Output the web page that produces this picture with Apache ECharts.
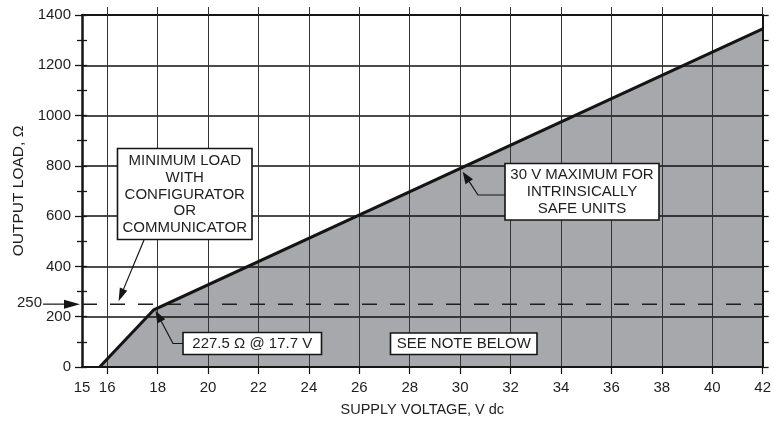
<!DOCTYPE html>
<html><head><meta charset="utf-8">
<script src="https://cdn.jsdelivr.net/npm/echarts@6/dist/echarts.min.js"></script>
<style>html,body{margin:0;padding:0;background:#fff}#c{width:774px;height:422px}</style>
</head><body><div id="c"></div>
<script>
// ---- data ----
const xTickValues = [16,18,20,22,24,26,28,30,32,34,36,38,40,42];
const xLabelValues = [15,16,18,20,22,24,26,28,30,32,34,36,38,40,42];
const yTickValues = [0,200,400,600,800,1000,1200,1400];
const loadCurveV = [15.7, 17.85, 42];
const loadCurveOhm = [0, 227.5, 1345];
const minLoadV = [15, 42];
const minLoadOhm = [250, 250];
const minLoadLabel = '250';
const noteTexts = {
  minLoad: 'MINIMUM LOAD\nWITH\nCONFIGURATOR\nOR\nCOMMUNICATOR',
  knee: '227.5 Ω @ 17.7 V',
  note: 'SEE NOTE BELOW',
  max30: '30 V MAXIMUM FOR\nINTRINSICALLY\nSAFE UNITS'
};
// arrow targets in data units
const arrowTargetsV = {minLoad: 16.45, knee: 17.92, max30: 30.1};
const arrowTargetsOhm = {minLoad: 262, knee: 224, max30: 777};

const FONT = '"Liberation Sans", Arial, Helvetica, sans-serif';
const INK = '#151515';

const curve = loadCurveV.map((v,i)=>[v, loadCurveOhm[i]]);
const minLoad = minLoadV.map((v,i)=>[v, minLoadOhm[i]]);

const chart = echarts.init(document.getElementById('c'), null, {renderer:'canvas'});
const tickLabelStyle = {color:'#1e1e1e', fontSize:15, fontFamily:FONT};
chart.setOption({
  animation:false,
  backgroundColor:'#fff',
  grid:{left:82, right:7, top:15, bottom:52, containLabel:false},
  xAxis:[
    {type:'value', min:15, max:42, interval:1, position:'bottom', z:3,
     axisLine:{show:true, onZero:false, lineStyle:{color:INK, width:2}},
     axisTick:{show:true, customValues:xTickValues, length:7, lineStyle:{color:INK, width:1.2}},
     axisLabel:{customValues:xLabelValues, formatter:v=>String(v), margin:13, ...tickLabelStyle},
     splitLine:{show:true, lineStyle:{color:'#333', width:1}},
     name:'SUPPLY VOLTAGE, V dc', nameLocation:'middle', nameGap:35,
     nameTextStyle:{color:'#1e1e1e', fontSize:14.5, fontFamily:FONT}},
    {type:'value', min:15, max:42, interval:1, position:'top', z:3,
     axisLine:{show:true, onZero:false, lineStyle:{color:INK, width:2}},
     axisTick:{show:true, customValues:xTickValues, length:8, lineStyle:{color:'#333', width:1}},
     axisLabel:{show:false}, splitLine:{show:false}}
  ],
  yAxis:[
    {type:'value', min:0, max:1400, interval:200, position:'left', z:3,
     axisLine:{show:true, onZero:false, lineStyle:{color:INK, width:2.5}},
     axisTick:{show:true, length:7, lineStyle:{color:INK, width:1.3}},
     minorTick:{show:true, splitNumber:2, length:5, lineStyle:{color:INK, width:1.3}},
     axisLabel:{customValues:yTickValues, formatter:v=>String(v), margin:11, ...tickLabelStyle},
     splitLine:{show:true, lineStyle:{color:'#111', width:1.5}},
     name:'OUTPUT LOAD, Ω', nameLocation:'middle', nameGap:48, nameRotate:90,
     nameTextStyle:{color:'#1e1e1e', fontSize:15.5, fontFamily:FONT}},
    {type:'value', min:0, max:1400, interval:100, position:'left', z:3,
     axisLine:{show:false}, axisTick:{show:true, inside:true, length:5, lineStyle:{color:INK, width:1.3}},
     axisLabel:{show:false}, splitLine:{show:false}},
    {type:'value', min:0, max:1400, interval:100, position:'right', z:3,
     axisLine:{show:true, onZero:false, lineStyle:{color:INK, width:2}},
     axisTick:{show:true, length:6, lineStyle:{color:INK, width:1.3}},
     axisLabel:{show:false}, splitLine:{show:false}}
  ],
  series:[
    {type:'line', data:curve, symbol:'none', silent:true, z:1,
     lineStyle:{width:0}, areaStyle:{color:'#a7a8ab', opacity:1}},
    {type:'line', data:minLoad, symbol:'none', silent:true, z:4,
     lineStyle:{color:'#1e1e1e', width:1.5, type:[15,13]}},
    {type:'line', data:curve, symbol:'none', silent:true, z:5,
     lineStyle:{color:INK, width:3, join:'miter'}}
  ]
});

function px(v, o){ return chart.convertToPixel({xAxisIndex:0, yAxisIndex:0}, [v, o]); }

function arrow(pts, L, W){
  const T = pts[pts.length-1], P = pts[pts.length-2];
  const dx = T[0]-P[0], dy = T[1]-P[1], len = Math.hypot(dx,dy);
  const ux = dx/len, uy = dy/len, nx = -uy, ny = ux;
  const B = [T[0]-ux*L, T[1]-uy*L];
  const line = pts.slice(0,-1).concat([B]);
  return [
    {type:'polyline', z:10, shape:{points:line}, style:{stroke:INK, lineWidth:1.2, fill:null}},
    {type:'polygon', z:10, shape:{points:[T, [B[0]+nx*W, B[1]+ny*W], [B[0]-nx*W, B[1]-ny*W]]}, style:{fill:INK}}
  ];
}
function box(x, y, w, h, text, lh){
  return [
    {type:'rect', z:10, shape:{x:x, y:y, width:w, height:h}, style:{fill:'#fff', stroke:INK, lineWidth:1.6}},
    {type:'text', z:11, x:x+w/2, y:y+h/2+0.5, style:{text:text, fill:'#1e1e1e', font:'15px '+FONT, align:'center', verticalAlign:'middle', lineHeight:lh}}
  ];
}

const axisX = px(15, 0)[0];
const y250 = px(15, minLoadOhm[0])[1];
const tMin = px(arrowTargetsV.minLoad, arrowTargetsOhm.minLoad);
const tKnee = px(arrowTargetsV.knee, arrowTargetsOhm.knee);
const tMax = px(arrowTargetsV.max30, arrowTargetsOhm.max30);

const els = [].concat(
  arrow([[144,240], tMin], 13, 4),
  arrow([[183,343.5],[173,343.5], tKnee], 12, 4.5),
  arrow([[505,195],[478,195], tMax], 12, 4.5),
  arrow([[axisX-39, y250],[axisX-2, y250]], 16, 4.5),
  box(117.5, 148.5, 134.5, 91, noteTexts.minLoad, 16.6),
  box(183, 332.5, 138.5, 22, noteTexts.knee, 17),
  box(390.5, 333, 146.5, 21.5, noteTexts.note, 17),
  box(505, 163.5, 154, 56.5, noteTexts.max30, 17),
  [{type:'text', z:11, x:axisX-40, y:y250-1, style:{text:minLoadLabel, fill:'#1e1e1e', font:'15px '+FONT, align:'right', verticalAlign:'middle'}}]
);
chart.setOption({graphic:{elements:els}});
</script>
</body></html>
